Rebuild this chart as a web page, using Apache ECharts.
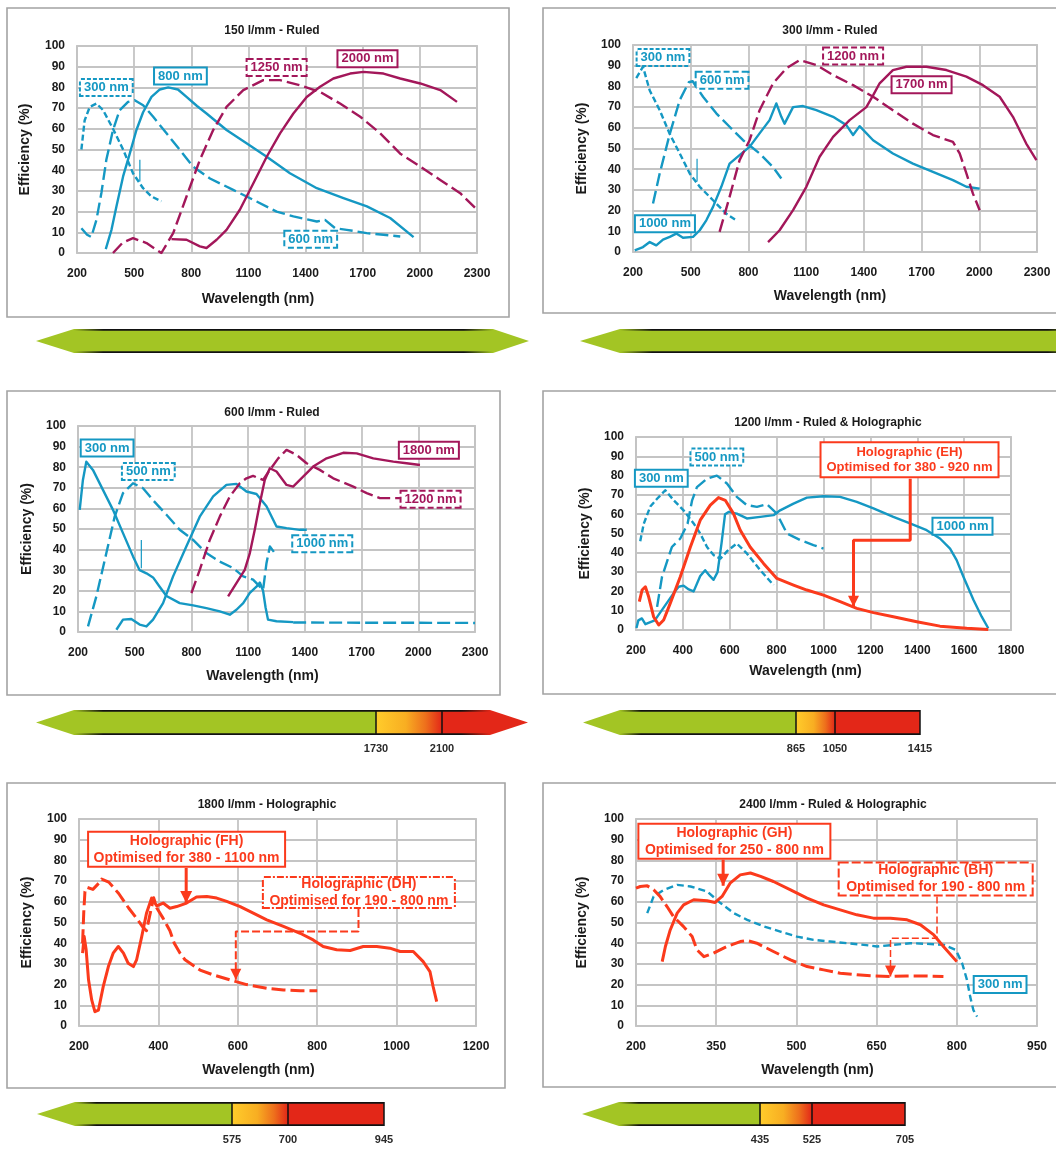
<!DOCTYPE html>
<html>
<head>
<meta charset="utf-8">
<title>Grating efficiency curves</title>
<script src="https://cdn.jsdelivr.net/npm/echarts@6/dist/echarts.min.js"></script>
<style>
  html, body { margin: 0; padding: 0; background: #ffffff; }
  #chart { width: 1056px; height: 1149px; }
</style>
</head>
<body>
<div id="chart"></div>
<script>
// ---------- axis tick labels ----------
const ticks150  = [200, 500, 800, 1100, 1400, 1700, 2000, 2300];
const ticks300  = [200, 500, 800, 1100, 1400, 1700, 2000, 2300];
const ticks600  = [200, 500, 800, 1100, 1400, 1700, 2000, 2300];
const ticks1200 = [200, 400, 600, 800, 1000, 1200, 1400, 1600, 1800];
const ticks1800 = [200, 400, 600, 800, 1000, 1200];
const ticks2400 = [200, 350, 500, 650, 800, 950];
const effTicks  = [0, 10, 20, 30, 40, 50, 60, 70, 80, 90, 100];

// ---------- 150 l/mm ruled: [wavelength nm, efficiency %] ----------
const g150_300 = [[223,50],[240,64],[267,70.6],[302,72.2],[337,69],[389,60],[442,50],[494,38.5],[547,31.3],[591,27.3],[643,25]];
const g150_300_spike = [[530,45],[530,34.5]];
const g150_600 = [[223,12],[253,8.8],[275,7.7],[302,16],[328,29],[354,45],[389,59.4],[424,69],[468,73],[503,73.8],[547,71.4],[600,65.8],[670,57.8],[740,49.8],[810,41.7],[898,36],[1020,30.5],[1143,24.9],[1248,20],[1336,17.7],[1459,15.2],[1502,16],[1555,12],[1616,11.2],[1721,9.6],[1809,8.8],[1897,8]];
const g150_800 = [[351,1.9],[381,11.2],[407,22.5],[442,37],[477,48],[512,59.4],[547,68],[591,75.4],[635,79],[679,80],[730,79],[775,75.4],[830,71],[880,67.4],[985,59.4],[1090,53],[1196,46.5],[1318,38.5],[1459,31.3],[1599,26.5],[1722,22.5],[1844,16.9],[1967,7.7]];
const g150_1250 = [[389,0],[440,5],[494,7.2],[565,4.8],[643,0],[705,9.6],[775,27.3],[845,45],[915,59.4],[985,70.6],[1073,78.7],[1178,83.5],[1266,83.5],[1371,81],[1476,77.8],[1581,72.2],[1687,65.8],[1792,57.8],[1897,48],[2002,41.7],[2107,35.3],[2212,28.9],[2300,20.9]];
const g150_2000 = [[696,6.7],[775,6.4],[845,3.2],[880,2.4],[933,6.4],[985,11.2],[1055,20.9],[1126,33.7],[1196,46.5],[1266,57.8],[1336,67.4],[1406,75.4],[1476,80.3],[1546,84.3],[1634,86.7],[1704,87.5],[1809,86.7],[1897,84.3],[2002,81.9],[2107,78.7],[2195,73]];

// ---------- 300 l/mm ruled ----------
const g300_300 = [[217,84],[252,89.5],[287,78],[339,68.5],[391,57],[443,47.6],[495,37.9],[547,31.5],[616,25],[685,18.5],[737,15.3]];
const g300_300_spike = [[533,45],[533,34]];
const g300_600 = [[304,23.4],[339,38],[391,57],[443,73.4],[490,82],[510,82.5],[564,75],[633,67],[702,60.5],[772,54],[858,47.6],[928,41],[971,35.5]];
const g300_1000 = [[209,0.8],[252,2.4],[287,4.8],[321,3.2],[356,6],[391,7.3],[425,8.9],[460,6.9],[512,7.3],[547,10.5],[581,15.3],[616,21.8],[659,31.5],[702,42.7],[754,46.8],[806,50.8],[858,57.3],[910,63.7],[945,71.8],[971,65.3],[988,62],[1032,70],[1084,70.5],[1153,68.5],[1240,65.3],[1309,61.3],[1344,56.5],[1378,60.8],[1448,54],[1551,47.6],[1655,42.7],[1759,38.7],[1863,34.7],[1933,31.5],[2002,30.6]];
const g300_1200 = [[650,9.7],[702,26.6],[754,44.4],[806,54],[858,68.5],[928,81.5],[997,88.7],[1066,92.7],[1153,90.3],[1240,85.5],[1344,80.6],[1448,75],[1551,68.5],[1655,62],[1759,56.5],[1863,53.2],[1898,47.6],[1933,38],[1967,28.2],[2002,20.2]];
const g300_1700 = [[902,4.8],[962,10.5],[1032,20.2],[1101,31.5],[1170,46],[1240,55.6],[1326,63.7],[1413,70],[1450,76],[1482,81.5],[1551,87.9],[1621,89.5],[1725,89.5],[1829,87.9],[1933,84.7],[2019,80.6],[2106,75],[2175,65.3],[2244,52.4],[2297,44.4]];

// ---------- 600 l/mm ruled ----------
const g600_300 = [[209,59.3],[226,73.8],[244,82.7],[279,78.7],[332,69],[385,59.3],[438,48],[491,36.7],[526,30],[562,28.5],[597,26.5],[632,22],[668,17.5],[738,14],[809,12.9],[879,11.6],[950,10],[1003,8.4],[1038,10.8],[1074,14],[1109,19],[1144,22],[1162,24],[1179,20],[1192,12],[1205,6],[1250,5.2],[1338,4.8]];
const g600_300_tail = [[1338,4.6],[2300,4.4]];
const g600_300_spike = [[535,44.7],[535,31]];
const g600_500 = [[253,2.7],[297,17.3],[350,38.3],[394,56],[438,67.4],[491,72.2],[544,69.8],[597,64],[668,56.9],[738,49.6],[809,44.7],[879,38.3],[950,34.2],[1021,31],[1074,27],[1126,25.4],[1162,22],[1179,20.5],[1197,33.4],[1215,41.5],[1241,38.3]];
const g600_1000 = [[403,1.1],[438,6],[482,6.3],[526,3.6],[562,2.7],[597,6],[650,14],[703,27],[773,41.5],[844,56],[915,65.8],[985,71.4],[1038,71.9],[1091,68.2],[1144,67],[1197,61],[1250,51.2],[1303,50.4],[1373,49.6],[1410,49.6]];
const g600_1200 = [[800,18.9],[844,30.2],[897,44.7],[950,56],[1003,65.8],[1056,72.2],[1091,74.6],[1126,75.8],[1179,73.8],[1215,78.7],[1259,84.3],[1303,88.4],[1356,86],[1409,81.9],[1479,78.7],[1550,74.6],[1656,70.6],[1727,67.4],[1797,65],[1903,65]];
const g600_1800 = [[994,17.3],[1038,23.7],[1082,30.2],[1109,38.3],[1135,49.6],[1162,62.5],[1188,73.8],[1215,79.5],[1250,77.9],[1303,71.4],[1338,70.6],[1391,75.4],[1444,80.3],[1515,84.3],[1603,87],[1674,86.7],[1762,84.3],[1868,82.7],[1938,81.9],[2009,81.1]];

// ---------- 1200 l/mm ruled & holographic ----------
const g1200_300 = [[218,46],[233,55],[261,64],[290,68],[325,72.4],[361,67.2],[403,62],[446,55.2],[474,50],[503,43],[531,38.8],[560,37],[590,41],[630,44.8],[673,39.7],[730,31],[787,23.3]];
const g1200_500 = [[290,12],[311,27.6],[353,43],[389,47.4],[420,55],[439,67],[460,74],[503,78.4],[545,80],[588,75.9],[630,69],[673,64.7],[716,63.8],[758,65.2],[801,60.3],[844,50],[900,46.6],[957,44],[1000,42.2]];
const g1200_1000 = [[202,1],[210,5],[225,6],[240,3],[280,5],[320,12],[360,19],[382,22.4],[403,23],[425,21],[446,20],[474,28],[495,31],[515,28],[531,26],[548,30],[565,45],[580,60],[595,61.2],[630,60.3],[673,57.8],[730,58.6],[787,59.5],[815,62],[872,65.5],[929,68.6],[1000,69.3],[1071,69],[1142,66.4],[1213,63],[1298,58.6],[1369,55.2],[1440,51.7],[1497,47.4],[1540,42.2],[1568,36.2],[1597,27.6],[1640,15.5],[1675,6.9],[1703,0.9]];
const g1200_EH = [[214,14.7],[226,20.7],[240,22.4],[254,17.2],[275,6.9],[297,2.6],[318,5.2],[346,13.8],[389,27.6],[432,43],[474,56.9],[517,64.7],[552,68.6],[581,67.2],[616,60.3],[645,51.7],[687,43],[744,34.5],[801,26.7],[872,23.3],[929,20.7],[1000,18.1],[1071,14.7],[1142,11.2],[1213,9],[1298,6.9],[1398,4.3],[1497,2],[1611,0.9],[1703,0.3]];

// ---------- 1800 l/mm holographic ----------
const g1800_FH = [[209,35.2],[213,43.2],[218,36.8],[224,22.3],[232,12.6],[240,6.9],[249,7.7],[261,19],[274,28.7],[286,35.2],[299,38.4],[312,35.2],[324,30.3],[337,28.7],[345,31.9],[358,43.2],[370,54.5],[383,61.8],[396,58],[412,59.4],[429,56.9],[446,57.7],[471,59.4],[496,62.3],[522,62.6],[547,61.8],[572,60.2],[606,57.7],[639,54.5],[673,51.3],[715,48.1],[757,44.8],[790,41.6],[815,38.4],[849,36.8],[883,36.5],[916,38.4],[950,38.4],[983,37.6],[1009,36],[1042,36],[1067,31.1],[1084,26.3],[1092,19],[1101,11.8]];
const g1800_DH = [[209,40],[212,55],[215,65],[220,67],[235,66],[250,69],[257,71],[275,69.5],[300,64],[325,57],[345,52],[360,48],[370,46],[380,55],[388,62],[396,57],[412,52],[429,46],[440,40],[455,35],[467,32],[505,27],[538,24.7],[580,22.3],[622,20],[673,18.2],[715,17.4],[757,17],[800,17]];

// ---------- 2400 l/mm ruled & holographic ----------
const g2400_GH = [[249,31.1],[255,38.4],[264,46.4],[277,54.5],[289,58.5],[308,61],[333,60.5],[348,59.7],[361,62.6],[376,69],[395,73],[414,73.9],[433,72.3],[457,69.8],[489,65.8],[520,61.8],[551,58.5],[582,56.1],[613,53.7],[644,52.1],[676,52.1],[707,51.3],[732,48.9],[757,44],[775,38.4],[800,31.1]];
const g2400_BH = [[200,66.6],[208,67.4],[221,67.7],[233,65.8],[245,62.6],[258,57.7],[270,52.9],[289,48],[305,43.2],[314,36.8],[327,33.5],[345,35.2],[370,38.4],[395,40.8],[408,41.3],[426,40],[457,36],[489,31.9],[520,28.7],[551,27.1],[582,25.5],[613,24.7],[644,24.2],[676,23.9],[707,24.2],[738,24.2],[775,23.9]];
const g2400_300 = [[221,54.5],[233,62.6],[252,65.8],[277,68.2],[302,67.4],[333,65],[358,59.4],[383,54.5],[408,51.3],[439,48.1],[470,45.6],[501,43.2],[532,41.6],[563,40.8],[595,40],[626,39.2],[651,38.4],[682,39.2],[713,40],[744,39.7],[776,39.2],[798,36.8],[810,30.3],[819,22.3],[825,14.2],[831,7.7],[838,4.5]];

// ---------- callout leaders: [wavelength, efficiency] path, arrow at the end ----------
const leadEH = [[1370,78.4],[1370,46.5],[1128,46.5],[1128,12]];
const leadFH = [[470,76.3],[470,59.4]];
const leadDH = [[904,56.5],[904,45.6],[595,45.6],[595,22.3]];
const leadGH = [[363,80.3],[363,67.7]];
const leadBH = [[763,62.6],[763,42.4],[676,42.4],[676,23.9]];

// ---------- wavelength range bars (nm) ----------
const range600  = ['1730', '2100'];
const range1200 = ['865', '1050', '1415'];
const range1800 = ['575', '700', '945'];
const range2400 = ['435', '525', '705'];

// ---------- styling ----------
const FONT = '"Liberation Sans", Arial, Helvetica, sans-serif';
const NARROW = '"Liberation Sans Narrow", "Arial Narrow", "Liberation Sans", Arial, sans-serif';
const TEAL = '#1598C3';
const MAG = '#A3175A';
const RED = '#FB3A1C';
const GRIDC = '#C4C4C4';
const INK = '#1a1a1a';
const SHORT = [6, 3];
const LONG = [13, 5];
const BOX_SHORT = [4, 2];
const BOX_LONG = [6, 3];

const panels = [
  {
    title: '150 l/mm - Ruled', titleAt: [272, 31], frame: [7, 8, 502, 309],
    grid: [77, 46, 400, 207], ticks: ticks150, xGap: 39, xShift: 19, yGap: 45,
    curves: [
      { data: g150_300, color: TEAL, dash: SHORT },
      { data: g150_300_spike, color: TEAL, width: 1.2 },
      { data: g150_600, color: TEAL, dash: LONG },
      { data: g150_800, color: TEAL },
      { data: g150_1250, color: MAG, dash: LONG },
      { data: g150_2000, color: MAG }
    ],
    tags: [
      { text: '300 nm', at: [354, 80], color: TEAL, dash: BOX_SHORT },
      { text: '800 nm', at: [743, 85.5], color: TEAL },
      { text: '1250 nm', at: [1248, 89.6], color: MAG, dash: BOX_LONG },
      { text: '2000 nm', at: [1725, 93.9], color: MAG },
      { text: '600 nm', at: [1427, 6.7], color: TEAL, dash: BOX_LONG }
    ]
  },
  {
    title: '300 l/mm - Ruled', titleAt: [830, 31], frame: [543, 8, 530, 305],
    grid: [633, 45, 404, 207], ticks: ticks300, xGap: 37, xShift: 5, yGap: 44,
    curves: [
      { data: g300_300, color: TEAL, dash: SHORT },
      { data: g300_300_spike, color: TEAL, width: 1.2 },
      { data: g300_600, color: TEAL, dash: LONG },
      { data: g300_1000, color: TEAL },
      { data: g300_1200, color: MAG, dash: LONG },
      { data: g300_1700, color: MAG }
    ],
    tags: [
      { text: '300 nm', at: [356, 94], color: TEAL, dash: BOX_SHORT },
      { text: '600 nm', at: [663, 83], color: TEAL, dash: BOX_LONG },
      { text: '1000 nm', at: [366, 13.7], color: TEAL },
      { text: '1200 nm', at: [1344, 94.7], color: MAG, dash: BOX_LONG },
      { text: '1700 nm', at: [1700, 80.8], color: MAG }
    ]
  },
  {
    title: '600 l/mm - Ruled', titleAt: [272, 413], frame: [7, 391, 493, 304],
    grid: [78, 426, 397, 206], ticks: ticks600, xGap: 37, xShift: 14, yGap: 44,
    curves: [
      { data: g600_300, color: TEAL },
      { data: g600_300_tail, color: TEAL, dash: LONG },
      { data: g600_300_spike, color: TEAL, width: 1.2 },
      { data: g600_500, color: TEAL, dash: LONG },
      { data: g600_1000, color: TEAL },
      { data: g600_1200, color: MAG, dash: LONG },
      { data: g600_1800, color: MAG }
    ],
    tags: [
      { text: '300 nm', at: [354, 89.3], color: TEAL },
      { text: '500 nm', at: [572, 77.9], color: TEAL, dash: BOX_SHORT },
      { text: '1000 nm', at: [1492, 42.8], color: TEAL, dash: BOX_LONG },
      { text: '1800 nm', at: [2056, 88.2], color: MAG },
      { text: '1200 nm', at: [2065, 64.5], color: MAG, dash: BOX_LONG }
    ]
  },
  {
    title: '1200 l/mm - Ruled & Holographic', titleAt: [828, 423], frame: [543, 391, 530, 303],
    grid: [636, 437, 375, 193], ticks: ticks1200, xGap: 34, xShift: 18, yGap: 44,
    curves: [
      { data: g1200_300, color: TEAL, dash: SHORT },
      { data: g1200_500, color: TEAL, dash: LONG },
      { data: g1200_1000, color: TEAL },
      { data: g1200_EH, color: RED, width: 3 }
    ],
    tags: [
      { text: '300 nm', at: [308, 78.6], color: TEAL },
      { text: '500 nm', at: [545, 89.6], color: TEAL, dash: BOX_SHORT },
      { text: '1000 nm', at: [1593, 53.8], color: TEAL }
    ],
    notes: [
      { text: 'Holographic (EH)\nOptimised for 380 - 920 nm', at: [1367, 88.2], size: [176, 33], fs: 13, lh: 15 }
    ],
    leaders: [ { path: leadEH, width: 3, head: 11 } ]
  },
  {
    title: '1800 l/mm - Holographic', titleAt: [267, 805], frame: [7, 783, 498, 305],
    grid: [79, 819, 397, 207], ticks: ticks1800, xGap: 37, xShift: 19, yGap: 45,
    curves: [
      { data: g1800_DH, color: RED, width: 3, dash: [14, 5] },
      { data: g1800_FH, color: RED, width: 3 }
    ],
    notes: [
      { text: 'Holographic (FH)\nOptimised for 380 - 1100 nm', at: [471, 85.4], size: [195, 33], fs: 14, lh: 17 },
      { text: 'Holographic (DH)\nOptimised for 190 - 800 nm', at: [905, 64.5], size: [190, 29], fs: 14, lh: 17, dash: [7, 2, 2, 2] }
    ],
    leaders: [
      { path: leadFH, width: 3, head: 12 },
      { path: leadDH, width: 2, head: 11, dash: [8, 3] }
    ]
  },
  {
    title: '2400 l/mm - Ruled & Holographic', titleAt: [833, 805], frame: [543, 783, 530, 304],
    grid: [636, 819, 401, 207], ticks: ticks2400, xGap: 37, xShift: 19, yGap: 47,
    curves: [
      { data: g2400_300, color: TEAL, dash: [7, 4] },
      { data: g2400_BH, color: RED, width: 3, dash: [14, 5] },
      { data: g2400_GH, color: RED, width: 3 }
    ],
    tags: [
      { text: '300 nm', at: [881, 20], color: TEAL }
    ],
    notes: [
      { text: 'Holographic (GH)\nOptimised for 250 - 800 nm', at: [384, 89.2], size: [190, 33], fs: 14, lh: 17 },
      { text: 'Holographic (BH)\nOptimised for 190 - 800 nm', at: [760.5, 71], size: [192, 31], fs: 14, lh: 17, dash: [9, 3] }
    ],
    leaders: [
      { path: leadGH, width: 3, head: 12 },
      { path: leadBH, width: 1.5, head: 11, dash: [7, 3] }
    ]
  }
];

// wavelength range bars under each row of panels
const bars = [
  { y: [329, 353], tipL: 36, bodyL: 74, bodyR: 493, tipR: 529 },
  { y: [329, 353], tipL: 580, bodyL: 620, bodyR: 1080, tipR: null, open: true },
  { y: [710, 735], tipL: 36, bodyL: 74, cuts: [376, 442], bodyR: 490, tipR: 528, labels: range600 },
  { y: [710, 735], tipL: 583, bodyL: 620, cuts: [796, 835], bodyR: 920, tipR: null, labels: range1200 },
  { y: [1102, 1126], tipL: 37, bodyL: 75, cuts: [232, 288], bodyR: 384, tipR: null, labels: range1800 },
  { y: [1102, 1126], tipL: 582, bodyL: 619, cuts: [760, 812], bodyR: 905, tipR: null, labels: range2400 }
];

const GREEN = '#A3C524';
const BAR_RED = '#E32718';

function shifted(pts, x0) { return pts.map(p => [p[0] - x0, p[1]]); }

const option = {
  animation: false,
  textStyle: { fontFamily: FONT },
  grid: [], xAxis: [], yAxis: [], series: [],
  graphic: { elements: [] }
};
const G = option.graphic.elements;

panels.forEach((p, i) => {
  const t = p.ticks;
  const x0 = t[0];
  const [gl, gt, gw, gh] = p.grid;
  option.grid.push({
    left: gl, top: gt, width: gw, height: gh, show: true,
    borderColor: GRIDC, borderWidth: 1.8, containLabel: false, outerBoundsMode: 'none'
  });
  option.xAxis.push({
    type: 'value', gridIndex: i, min: 0, max: t[t.length - 1] - x0, interval: t[1] - t[0],
    axisLine: { show: false }, axisTick: { show: false },
    splitLine: { show: true, lineStyle: { color: GRIDC, width: 1.8 } },
    axisLabel: { margin: 15, fontSize: 12, fontWeight: 'bold', color: INK, fontFamily: FONT,
      showMinLabel: true, showMaxLabel: true, formatter: v => String(v + x0) },
    name: 'Wavelength (nm)', nameLocation: 'middle', nameGap: p.xGap,
    nameTextStyle: { fontSize: 14, fontWeight: 'bold', color: INK, fontFamily: FONT, padding: [0, p.xShift * 2, 0, 0] }
  });
  option.yAxis.push({
    type: 'value', gridIndex: i, min: effTicks[0], max: effTicks[effTicks.length - 1],
    interval: effTicks[1] - effTicks[0],
    axisLine: { show: false }, axisTick: { show: false },
    splitLine: { show: true, lineStyle: { color: GRIDC, width: 1.8 } },
    axisLabel: { margin: 12, fontSize: 12, fontWeight: 'bold', color: INK, fontFamily: FONT },
    name: 'Efficiency (%)', nameLocation: 'middle', nameGap: p.yGap,
    nameTextStyle: { fontSize: 14, fontWeight: 'bold', color: INK, fontFamily: FONT }
  });

  // efficiency curves
  p.curves.forEach(c => {
    option.series.push({
      type: 'line', xAxisIndex: i, yAxisIndex: i, data: shifted(c.data, x0),
      symbol: 'none', showSymbol: false, silent: true, z: 3,
      lineStyle: { color: c.color, width: c.width || 2.4, type: c.dash || 'solid', cap: 'butt', join: 'round' }
    });
  });

  // callout leaders with arrow heads
  (p.leaders || []).forEach(l => {
    option.series.push({
      type: 'line', xAxisIndex: i, yAxisIndex: i, data: shifted(l.path, x0),
      symbol: 'none', showSymbol: false, silent: true, z: 5,
      lineStyle: { color: RED, width: l.width, type: l.dash || 'solid', cap: 'butt' }
    });
    const tip = l.path[l.path.length - 1];
    option.series.push({
      type: 'scatter', xAxisIndex: i, yAxisIndex: i, data: shifted([tip], x0),
      symbol: 'triangle', symbolSize: [l.head, l.head], symbolRotate: 180, symbolOffset: [0, '-50%'],
      itemStyle: { color: RED, opacity: 1 }, silent: true, z: 6
    });
  });

  // blaze wavelength tags
  if (p.tags) {
    option.series.push({
      type: 'scatter', xAxisIndex: i, yAxisIndex: i, symbolSize: 0.1, silent: true, z: 8,
      itemStyle: { color: 'rgba(0,0,0,0)', opacity: 1 },
      data: p.tags.map(tg => ({
        value: [tg.at[0] - x0, tg.at[1]], name: tg.text,
        label: {
          show: true, position: 'inside', formatter: '{b}', color: tg.color,
          fontSize: 13, fontWeight: 'bold', fontFamily: FONT, lineHeight: 14,
          backgroundColor: '#ffffff', borderColor: tg.color, borderWidth: 2,
          borderType: tg.dash || 'solid', padding: [1, 3, 0, 3]
        }
      }))
    });
  }

  // holographic grating notes
  if (p.notes) {
    option.series.push({
      type: 'scatter', xAxisIndex: i, yAxisIndex: i, symbolSize: 0.1, silent: true, z: 9,
      itemStyle: { color: 'rgba(0,0,0,0)', opacity: 1 },
      data: p.notes.map(n => ({
        value: [n.at[0] - x0, n.at[1]], name: n.text,
        label: {
          show: true, position: 'inside', formatter: '{b}', color: RED,
          fontSize: n.fs, fontWeight: 'bold', fontFamily: FONT, lineHeight: n.lh,
          width: n.size[0], height: n.size[1], align: 'center', verticalAlign: 'middle',
          backgroundColor: '#ffffff', borderColor: RED, borderWidth: 2,
          borderType: n.dash || 'solid', padding: 0
        }
      }))
    });
  }

  // panel frame and title
  const [fx, fy, fw, fh] = p.frame;
  G.push({ type: 'rect', z: -10, silent: true, shape: { x: fx, y: fy, width: fw, height: fh },
    style: { fill: 'none', stroke: '#A3A3A3', lineWidth: 1.6 } });
  G.push({ type: 'text', x: p.titleAt[0], y: p.titleAt[1], silent: true, z: 10,
    style: { text: p.title, fill: INK, font: 'bold 12px ' + FONT, align: 'center', verticalAlign: 'middle' } });
});

// ---------- range bars ----------
function fade(leftFade, rightFade) {
  const stops = [];
  stops.push({ offset: 0, color: leftFade ? 'rgba(0,0,0,0)' : '#111' });
  stops.push({ offset: leftFade ? 0.07 : 0, color: '#111' });
  stops.push({ offset: rightFade ? 0.93 : 1, color: '#111' });
  stops.push({ offset: 1, color: rightFade ? 'rgba(0,0,0,0)' : '#111' });
  return new echarts.graphic.LinearGradient(0, 0, 1, 0, stops);
}

bars.forEach(b => {
  const [top, bot] = b.y;
  const mid = (top + bot) / 2;
  const greenEnd = b.cuts ? b.cuts[0] : b.bodyR;
  const greenPts = [[b.tipL, mid], [b.bodyL, top], [greenEnd, top]];
  if (!b.cuts && b.tipR) greenPts.push([b.tipR, mid]);
  greenPts.push([greenEnd, bot], [b.bodyL, bot]);
  G.push({ type: 'polygon', silent: true, shape: { points: greenPts }, style: { fill: GREEN } });

  if (b.cuts) {
    const [c0, c1] = b.cuts;
    G.push({ type: 'rect', silent: true, shape: { x: c0, y: top, width: c1 - c0, height: bot - top },
      style: { fill: new echarts.graphic.LinearGradient(0, 0, 1, 0, [
        { offset: 0, color: '#FFCC2B' }, { offset: 0.45, color: '#F8AE22' },
        { offset: 0.75, color: '#EE701C' }, { offset: 1, color: BAR_RED }]) } });
    const redPts = [[c1, top], [b.bodyR, top]];
    if (b.tipR) redPts.push([b.tipR, mid]);
    redPts.push([b.bodyR, bot], [c1, bot]);
    G.push({ type: 'polygon', silent: true, shape: { points: redPts }, style: { fill: BAR_RED } });
    const lines = [c0, c1];
    if (!b.tipR) lines.push(b.bodyR);
    lines.forEach(x => G.push({ type: 'line', silent: true,
      shape: { x1: x, y1: top, x2: x, y2: bot }, style: { stroke: '#111', lineWidth: 1.5 } }));
    b.labels.forEach((txt, k) => {
      const x = k < 2 ? b.cuts[k] : b.bodyR;
      G.push({ type: 'text', silent: true, x: x, y: bot + 14,
        style: { text: txt, fill: '#2a2a2a', font: 'bold 11px ' + NARROW, align: 'center', verticalAlign: 'middle' } });
    });
  }
  const edgeEnd = b.bodyR;
  const rightFade = !!b.tipR || b.open;
  G.push({ type: 'rect', silent: true, shape: { x: b.bodyL, y: top, width: edgeEnd - b.bodyL, height: 1.8 },
    style: { fill: fade(true, rightFade) } });
  G.push({ type: 'rect', silent: true, shape: { x: b.bodyL, y: bot - 1.8, width: edgeEnd - b.bodyL, height: 1.8 },
    style: { fill: fade(true, rightFade) } });
});

const chart = echarts.init(document.getElementById('chart'), null, { renderer: 'canvas' });
chart.setOption(option);
</script>
</body>
</html>
